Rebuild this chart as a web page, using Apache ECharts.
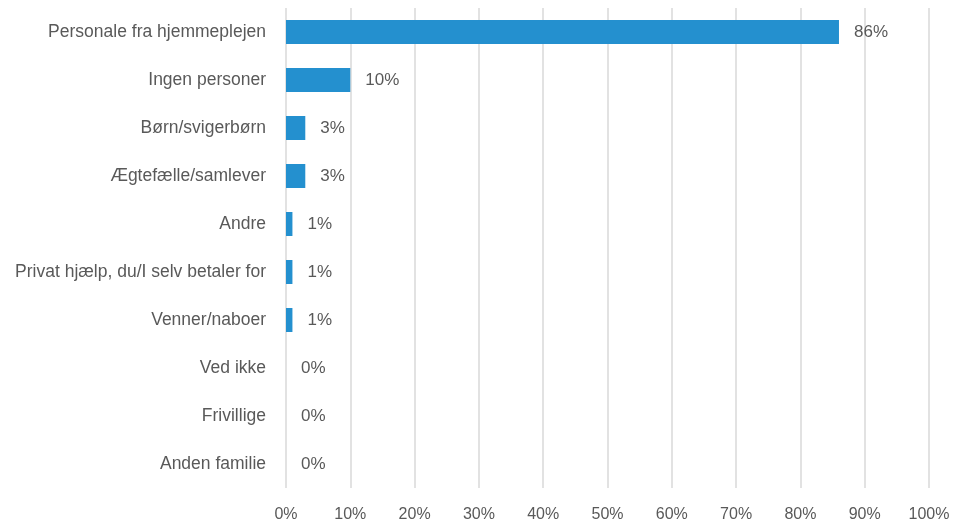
<!DOCTYPE html>
<html><head><meta charset="utf-8">
<script src="https://cdn.jsdelivr.net/npm/echarts@6/dist/echarts.min.js"></script>
<style>html,body{margin:0;padding:0;background:#fff}#c{width:960px;height:525px}</style>
</head><body><div id="c"></div>
<script>
const categories = ["Personale fra hjemmeplejen","Ingen personer","Børn/svigerbørn","Ægtefælle/samlever","Andre","Privat hjælp, du/I selv betaler for","Venner/naboer","Ved ikke","Frivillige","Anden familie"];
const values = [86,10,3,3,1,1,1,0,0,0];
const xTicks = [0,10,20,30,40,50,60,70,80,90,100];
const FONT = '"Liberation Sans", Arial, sans-serif';
const chart = echarts.init(document.getElementById('c'));
chart.setOption({
  animation:false,
  grid:{left:286,right:31,top:8,bottom:37,containLabel:false},
  xAxis:{type:'value',min:0,max:100,interval:10,
    axisLine:{show:false},axisTick:{show:false},
    splitLine:{show:true,lineStyle:{color:'#d9d9d9',width:1.5}},
    axisLabel:{formatter:v=>xTicks.includes(v)?v+'%':'',color:'#595959',fontSize:16,fontFamily:FONT,margin:19}},
  yAxis:{type:'category',data:categories,inverse:true,
    axisLine:{show:false},axisTick:{show:false},
    axisLabel:{color:'#595959',fontSize:17.5,fontFamily:FONT,margin:20}},
  series:[{type:'bar',data:values,barWidth:24,
    itemStyle:{color:'#2490cf'},
    label:{show:true,position:'right',distance:15,formatter:p=>p.value+'%',color:'#595959',fontSize:17,fontFamily:FONT}}]
});
</script></body></html>
